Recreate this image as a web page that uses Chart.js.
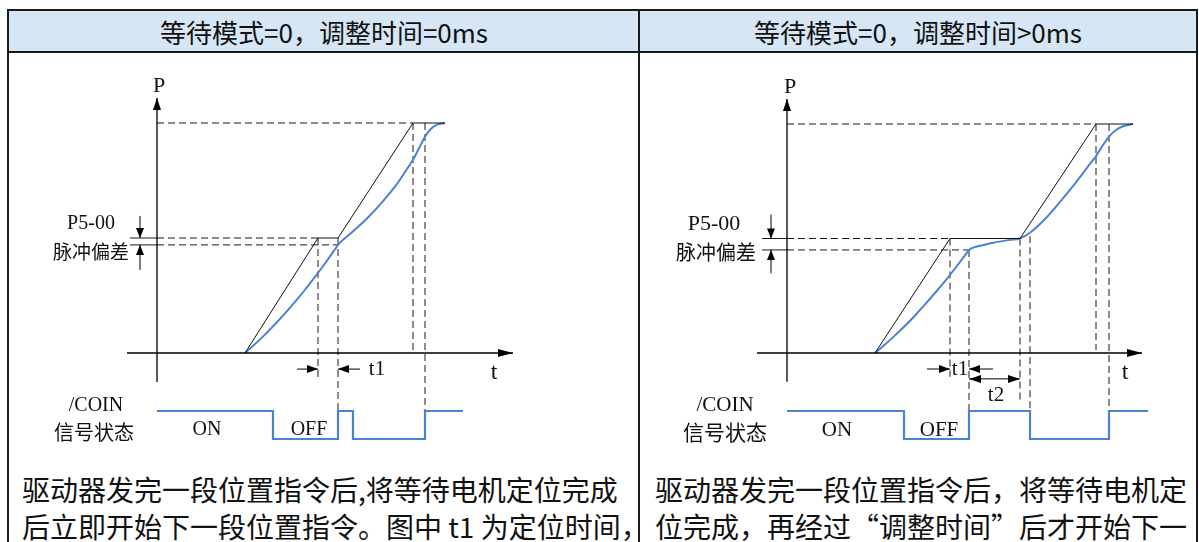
<!DOCTYPE html>
<html>
<head>
<meta charset="utf-8">
<script src="https://cdn.jsdelivr.net/npm/chart.js@4.4.1/dist/chart.umd.min.js"></script>
<style>
  body { margin: 0; width: 1199px; height: 542px; overflow: hidden; background: #fff; position: relative;
         font-family: "Noto Sans CJK SC", sans-serif; color: #111; }
  .hd { position: absolute; top: 11px; height: 40px; background: #d6e6f5; display: flex;
        align-items: center; justify-content: center; font-size: 26px; }
  .ln { position: absolute; background: #1a1a1a; }
  canvas { position: absolute; }
  .txt { position: absolute; font-size: 28px; line-height: 37px; white-space: nowrap; }
</style>
</head>
<body>
<div class="hd" style="left:9px;width:630px">等待模式=0，调整时间=0ms</div>
<div class="hd" style="left:640px;width:556px">等待模式=0，调整时间&gt;0ms</div>
<div class="ln" style="left:7px;top:9px;width:1191px;height:2px"></div>
<div class="ln" style="left:7px;top:51px;width:1191px;height:2px"></div>
<div class="ln" style="left:7px;top:9px;width:2px;height:533px"></div>
<div class="ln" style="left:638px;top:9px;width:2px;height:533px"></div>
<div class="ln" style="left:1196px;top:9px;width:2px;height:533px"></div>

<canvas id="left" width="629" height="414" style="left:9px;top:54px"></canvas>
<canvas id="right" width="555" height="414" style="left:641px;top:54px"></canvas>

<div class="txt" style="left:22px;top:471px">驱动器发完一段位置指令后,将等待电机定位完成<br>后立即开始下一段位置指令。图中 t1 为定位时间，</div>
<div class="txt" style="left:655px;top:471px">驱动器发完一段位置指令后，将等待电机定<br>位完成，再经过“调整时间”后才开始下一</div>

<script>
// ---- left: 调整时间=0ms ----
const L_cmdT = [8.8, 16.1, 18.1, 25.6, 28.8];
const L_cmdP = [0, 50, 50, 100, 100];
const L_actT = [8.8, 9.8, 10.8, 11.8, 12.8, 13.8, 14.8, 15.8, 16.8, 17.8, 18.1,
                19.5, 21.0, 22.5, 24.0, 25.0, 25.6, 26.2, 26.8, 27.4, 28.0, 28.8];
const L_actP = [0, 3.9, 8.0, 12.5, 17.2, 22.2, 27.5, 33.1, 38.9, 45.1, 47,
                52.5, 58.5, 65.5, 73.5, 80, 84, 89, 94, 97.5, 99.3, 100];
const L_sigT = [0, 11.6, 11.6, 18.1, 18.1, 19.6, 19.6, 26.8, 26.8, 30.6];
const L_sigV = [1, 1, 0, 0, 1, 1, 0, 0, 1, 1];
const L_band = [50, 47];

// ---- right: 调整时间>0ms ----
const R_cmdT = [8.8, 16.3, 23.3, 30.9, 34.6];
const R_cmdP = [0, 50, 50, 100, 100];
const R_actT = [8.8, 9.8, 10.8, 11.8, 12.8, 13.8, 14.8, 15.8, 16.8, 17.8, 18.2,
                19.3, 20.8, 22.3, 23.3,
                24.3, 25.8, 27.3, 28.8, 30.2, 30.9, 31.6, 32.2, 32.9, 33.6, 34.6];
const R_actP = [0, 3.7, 7.7, 11.9, 16.4, 21.2, 26.2, 31.4, 36.9, 42.6, 45,
                46.8, 48.3, 49.4, 50,
                52.5, 58.5, 66, 74, 82, 86, 90.8, 94.5, 97.4, 99, 100];
const R_sigT = [0, 11.7, 11.7, 18.2, 18.2, 24.3, 24.3, 32.2, 32.2, 36.1];
const R_sigV = [1, 1, 0, 0, 1, 1, 0, 0, 1, 1];
const R_band = [50, 45];

const BLUE = '#4b82d4';
const SERIF = '"Liberation Serif", "Times New Roman", serif';
const CJK = '"Noto Sans CJK SC", sans-serif';

function pts(ts, vs) {
  return ts.map((t, i) => ({ x: t, y: vs[i] }));
}

// page layout of each diagram: where t=0 / P=0 sit and pixels per unit
function ranges(g, c) {
  const ps = g.sLow - g.sHigh;
  return {
    x: { min: (c.left - g.x0) / g.pt, max: (c.left + c.w - g.x0) / g.pt },
    y: { min: (g.y0 - (c.top + c.h)) / g.pp, max: (g.y0 - c.top) / g.pp },
    s: { min: (g.sLow - (c.top + c.h)) / ps, max: (g.sLow - c.top) / ps }
  };
}

function overlay(extra) {
  function xy(chart, t, v, ax) {
    return [chart.scales.x.getPixelForValue(t), chart.scales[ax || 'y'].getPixelForValue(v)];
  }
  function head(ctx, x0, y0, x1, y1, len, half) {
    const a = Math.atan2(y1 - y0, x1 - x0);
    ctx.beginPath();
    ctx.moveTo(x1, y1);
    ctx.lineTo(x1 - len * Math.cos(a) + half * Math.sin(a), y1 - len * Math.sin(a) - half * Math.cos(a));
    ctx.lineTo(x1 - len * Math.cos(a) - half * Math.sin(a), y1 - len * Math.sin(a) + half * Math.cos(a));
    ctx.closePath();
    ctx.fill();
  }
  return {
    id: 'overlay',
    beforeDatasetsDraw(chart) {
      const ctx = chart.ctx;
      ctx.save();
      ctx.strokeStyle = '#1a1a1a';
      ctx.lineWidth = 1;
      extra.guides.forEach(g => {
        const a = xy(chart, g[0], g[1], g[2]);
        const b = xy(chart, g[3], g[4], g[5]);
        ctx.setLineDash(g[6] ? [] : [7, 4]);
        ctx.beginPath();
        ctx.moveTo(a[0], a[1]);
        ctx.lineTo(b[0], b[1]);
        ctx.stroke();
      });
      ctx.restore();
    },
    afterDatasetsDraw(chart) {
      const ctx = chart.ctx;
      ctx.save();
      ctx.fillStyle = '#000';
      ctx.strokeStyle = '#000';
      extra.arrows.forEach(r => {
        const a = xy(chart, r.from[0], r.from[1]);
        const b = xy(chart, r.to[0], r.to[1]);
        ctx.lineWidth = r.w || 1;
        ctx.beginPath();
        ctx.moveTo(a[0], a[1]);
        ctx.lineTo(b[0], b[1]);
        ctx.stroke();
        head(ctx, a[0], a[1], b[0], b[1], r.len, r.half);
        if (r.both) head(ctx, b[0], b[1], a[0], a[1], r.len, r.half);
      });
      ctx.textAlign = 'center';
      ctx.textBaseline = 'middle';
      ctx.fillStyle = '#111';
      extra.labels.forEach(l => {
        const p = xy(chart, l.t, l.v, l.ax);
        ctx.font = l.size + 'px ' + (l.cjk ? CJK : SERIF);
        ctx.fillText(l.text, p[0], p[1]);
      });
      ctx.restore();
    }
  };
}

function makeChart(id, geo, box, d, extra) {
  const r = ranges(geo, box);
  const ds = [
    { data: pts(d.cmdT, d.cmdP), borderColor: '#111', borderWidth: 1, yAxisID: 'y' },
    { data: pts(d.actT, d.actP), borderColor: BLUE, borderWidth: 2, yAxisID: 'y', cubicInterpolationMode: 'monotone' },
    { data: pts(d.sigT, d.sigV), borderColor: BLUE, borderWidth: 2.2, yAxisID: 's' }
  ].map(o => Object.assign({ showLine: true, pointRadius: 0, clip: false, tension: 0 }, o));

  return new Chart(document.getElementById(id).getContext('2d'), {
    type: 'scatter',
    data: { datasets: ds },
    options: {
      responsive: false,
      animation: false,
      events: [],
      layout: { padding: 0 },
      plugins: { legend: { display: false }, tooltip: { enabled: false } },
      scales: {
        x: { type: 'linear', display: false, min: r.x.min, max: r.x.max },
        y: { type: 'linear', display: false, min: r.y.min, max: r.y.max },
        s: { type: 'linear', display: false, min: r.s.min, max: r.s.max }
      }
    },
    plugins: [overlay(extra)]
  });
}

// ---- left panel ----
makeChart('left',
  { x0: 157, pt: 10, y0: 353, pp: 2.3, sHigh: 411, sLow: 439 },
  { left: 9, top: 54, w: 629, h: 414 },
  { cmdT: L_cmdT, cmdP: L_cmdP, actT: L_actT, actP: L_actP, sigT: L_sigT, sigV: L_sigV },
  {
    guides: [
      [0, 100, 'y', L_cmdT[3], 100, 'y'],
      [0, L_band[0], 'y', L_cmdT[1], L_band[0], 'y'],
      [0, L_band[1], 'y', L_sigT[3], L_band[1], 'y'],
      [L_cmdT[1], L_band[0], 'y', L_cmdT[1], -10.4, 'y'],
      [L_sigT[3], L_band[0], 'y', L_sigT[3], 1, 's'],
      [L_cmdT[3], 100, 'y', L_cmdT[3], 1.3, 'y'],
      [L_sigT[7], 100, 'y', L_sigT[7], 1, 's'],
      [-2.7, L_band[0], 'y', 0, L_band[0], 'y', true],
      [-2.7, L_band[1], 'y', 0, L_band[1], 'y', true]
    ],
    arrows: [
      { from: [0, -12.6], to: [0, 110.9], len: 12, half: 4, w: 1.3 },
      { from: [-3.0, 0], to: [35.6, 0], len: 15, half: 4, w: 1.3 },
      { from: [14.0, -7], to: [L_cmdT[1], -7], len: 11, half: 4 },
      { from: [20.3, -7], to: [L_sigT[3], -7], len: 11, half: 4 },
      { from: [-1.7, 59.6], to: [-1.7, L_band[0]], len: 10, half: 4 },
      { from: [-1.7, 36.1], to: [-1.7, L_band[1]], len: 10, half: 4 }
    ],
    labels: [
      { text: 'P', t: 0.2, v: 116.1, size: 22 },
      { text: 't', t: 33.7, v: -8.7, size: 24 },
      { text: 't1', t: 22.0, v: -7, size: 21 },
      { text: 'P5-00', t: -6.6, v: 56.1, size: 20 },
      { text: '脉冲偏差', t: -6.6, v: 43.9, size: 19, cjk: true },
      { text: '/COIN', t: -6.1, v: 1.18, ax: 's', size: 20 },
      { text: '信号状态', t: -6.3, v: 0.25, ax: 's', size: 20, cjk: true },
      { text: 'ON', t: 5.0, v: 0.32, ax: 's', size: 20 },
      { text: 'OFF', t: 15.2, v: 0.32, ax: 's', size: 20 }
    ]
  });

// ---- right panel ----
makeChart('right',
  { x0: 787, pt: 10, y0: 353, pp: 2.29, sHigh: 411, sLow: 439 },
  { left: 641, top: 54, w: 555, h: 414 },
  { cmdT: R_cmdT, cmdP: R_cmdP, actT: R_actT, actP: R_actP, sigT: R_sigT, sigV: R_sigV },
  {
    guides: [
      [0, 100, 'y', R_cmdT[3], 100, 'y'],
      [0, R_band[0], 'y', R_cmdT[1], R_band[0], 'y'],
      [0, R_band[1], 'y', R_sigT[3], R_band[1], 'y'],
      [R_cmdT[1], R_band[0], 'y', R_cmdT[1], -10.4, 'y'],
      [R_sigT[3], R_band[1], 'y', R_sigT[3], 1, 's'],
      [R_cmdT[2], R_band[0], 'y', R_cmdT[2], -21.3, 'y'],
      [R_sigT[5], R_band[0] + 1, 'y', R_sigT[5], 1, 's'],
      [R_cmdT[3], 100, 'y', R_cmdT[3], 1.3, 'y'],
      [R_sigT[7], 100, 'y', R_sigT[7], 1, 's'],
      [-2.5, R_band[0], 'y', 0, R_band[0], 'y', true],
      [-2.5, R_band[1], 'y', 0, R_band[1], 'y', true]
    ],
    arrows: [
      { from: [0, -12.6], to: [0, 110.9], len: 12, half: 4, w: 1.3 },
      { from: [-3.0, 0], to: [35.5, 0], len: 15, half: 4, w: 1.3 },
      { from: [14.0, -7], to: [R_cmdT[1], -7], len: 11, half: 4 },
      { from: [20.6, -7], to: [R_sigT[3], -7], len: 11, half: 4 },
      { from: [R_sigT[3], -11.3], to: [R_cmdT[2], -11.3], len: 12, half: 4, both: true },
      { from: [-1.6, 60.4], to: [-1.6, R_band[0]], len: 10, half: 4 },
      { from: [-1.6, 34.8], to: [-1.6, R_band[1]], len: 10, half: 4 }
    ],
    labels: [
      { text: 'P', t: 0.3, v: 116.1, size: 22 },
      { text: 't', t: 33.8, v: -8.7, size: 24 },
      { text: 't1', t: 17.3, v: -7, size: 21 },
      { text: 't2', t: 20.9, v: -18.7, size: 21 },
      { text: 'P5-00', t: -7.3, v: 56.1, size: 22 },
      { text: '脉冲偏差', t: -7.1, v: 43.9, size: 20, cjk: true },
      { text: '/COIN', t: -6.2, v: 1.18, ax: 's', size: 21 },
      { text: '信号状态', t: -6.2, v: 0.25, ax: 's', size: 21, cjk: true },
      { text: 'ON', t: 5.0, v: 0.32, ax: 's', size: 21 },
      { text: 'OFF', t: 15.2, v: 0.32, ax: 's', size: 21 }
    ]
  });
</script>
</body>
</html>
